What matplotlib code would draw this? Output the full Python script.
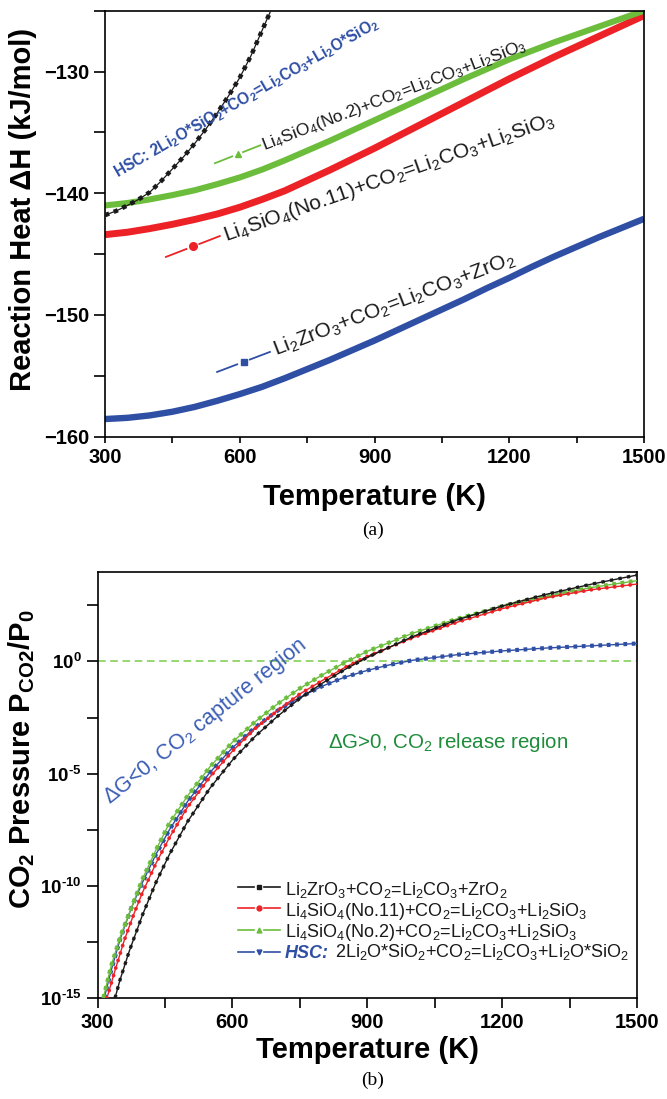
import matplotlib
matplotlib.use('Agg')
import matplotlib.pyplot as plt
import numpy as np
from matplotlib.ticker import MultipleLocator, FixedLocator, FuncFormatter, NullFormatter

plt.rcParams['font.family'] = ['Liberation Sans', 'DejaVu Sans']
plt.rcParams['mathtext.default'] = 'regular'

BLACK = '#1a1a1a'
RED = '#ec2227'
GREEN = '#6cbd3c'
BLUE = '#2f4fa5'

#-----------------------------------------------------
# (a) reaction heat dH (kJ/mol) vs temperature (K)
T_A = [300, 350, 400, 450, 500, 550, 600, 650, 700, 750, 800, 850, 900,
       950, 1000, 1050, 1100, 1150, 1200, 1250, 1300, 1350, 1400, 1450, 1500]
DH_ZR = [-158.55, -158.45, -158.25, -157.95, -157.55, -157.05, -156.5, -155.9,
         -155.2, -154.45, -153.7, -152.9, -152.1, -151.25, -150.4, -149.55,
         -148.7, -147.8, -146.95, -146.05, -145.2, -144.4, -143.6, -142.85, -142.1]
DH_NO11 = [-143.4, -143.2, -142.9, -142.55, -142.15, -141.7, -141.15, -140.5,
           -139.8, -138.95, -138.1, -137.2, -136.3, -135.35, -134.4, -133.45,
           -132.5, -131.55, -130.6, -129.7, -128.8, -127.95, -127.1, -126.25, -125.4]
DH_NO2 = [-141.0, -140.8, -140.5, -140.15, -139.75, -139.25, -138.7, -138.05,
          -137.3, -136.5, -135.7, -134.85, -134.0, -133.15, -132.3, -131.45,
          -130.6, -129.8, -129.0, -128.3, -127.6, -126.95, -126.3, -125.65, -125.0]
T_HSC_A = [300, 325, 350, 375, 400, 425, 450, 475, 500, 525, 550, 575, 600,
           625, 650, 675, 700]
DH_HSC = [-141.8, -141.45, -141.0, -140.5, -139.9, -139.0, -138.0, -137.0,
          -135.9, -134.7, -133.4, -132.0, -130.5, -128.7, -126.6, -124.5, -122.3]

#-----------------------------------------------------
# (b) log10 of CO2 pressure P_CO2/P0 vs temperature (K)
T_ZR_B = [339, 350, 370, 400, 430, 460, 500, 550, 600, 650, 700, 750, 800,
          850, 900, 1000, 1100, 1200, 1300, 1400, 1500]
LOGP_ZR = [-15.0, -14.2, -12.95, -11.3, -9.85, -8.6, -7.15, -5.65, -4.4, -3.35,
           -2.45, -1.65, -0.97, -0.36, 0.18, 1.10, 1.85, 2.47, 3.0, 3.45, 3.85]
T_NO11_B = [321, 340, 360, 380, 400, 430, 460, 500, 550, 600, 650, 700, 750,
            800, 850, 900, 1000, 1100, 1200, 1300, 1400, 1500]
LOGP_NO11 = [-15.0, -13.7, -12.4, -11.3, -10.3, -9.0, -7.85, -6.5, -5.15, -4.0,
             -3.0, -2.2, -1.45, -0.85, -0.27, 0.22, 1.05, 1.75, 2.35, 2.85, 3.2, 3.45]
T_NO2_B = [313, 330, 350, 375, 400, 430, 460, 500, 550, 600, 650, 700, 750,
           800, 850, 900, 1000, 1100, 1200, 1300, 1400, 1500]
LOGP_NO2 = [-15.0, -13.6, -12.3, -11.0, -9.7, -8.4, -7.2, -6.0, -4.7, -3.6,
            -2.7, -1.9, -1.2, -0.6, -0.05, 0.45, 1.25, 1.9, 2.45, 2.9, 3.3, 3.6]
T_HSC_B = [315, 330, 350, 375, 400, 430, 460, 500, 550, 600, 650, 700, 750,
           800, 850, 900, 950, 1000, 1100, 1200, 1300, 1400, 1500]
LOGP_HSC = [-15.0, -13.8, -12.4, -11.0, -9.85, -8.6, -7.5, -6.25, -4.95, -3.85,
            -2.95, -2.2, -1.6, -1.1, -0.7, -0.4, -0.15, 0.05, 0.3, 0.47, 0.6, 0.7, 0.8]

LBL_ZR = 'Li$_2$ZrO$_3$+CO$_2$=Li$_2$CO$_3$+ZrO$_2$'
LBL_NO11 = 'Li$_4$SiO$_4$(No.11)+CO$_2$=Li$_2$CO$_3$+Li$_2$SiO$_3$'
LBL_NO2 = 'Li$_4$SiO$_4$(No.2)+CO$_2$=Li$_2$CO$_3$+Li$_2$SiO$_3$'
LBL_HSC = '2Li$_2$O*SiO$_2$+CO$_2$=Li$_2$CO$_3$+Li$_2$O*SiO$_2$'

W, H = 667, 1099
LABEL_FS = 21


def px_axes(left, right, top, bottom):
    return [left / W, 1 - bottom / H, (right - left) / W, (bottom - top) / H]


def marker_line(ax, x, y, color, lw_line, lw_mark, dashes, cap='butt', z=3):
    # thin connecting line plus a dotted thick line standing in for dense markers
    ax.plot(x, y, color=color, lw=lw_line, zorder=z)
    ax.plot(x, y, color=color, lw=lw_mark, dashes=dashes,
            dash_capstyle=cap, zorder=z)


def key(ax, p0, p1, color, marker, ms, lw=1.3):
    # little "-- o --" key drawn in axes fraction coords
    (x0, y0), (x1, y1) = p0, p1
    t = ax.transAxes
    ax.plot([x0, x0 + 0.38 * (x1 - x0)], [y0, y0 + 0.38 * (y1 - y0)], color=color, lw=lw, transform=t)
    ax.plot([x0 + 0.62 * (x1 - x0), x1], [y0 + 0.62 * (y1 - y0), y1], color=color, lw=lw, transform=t)
    ax.plot([(x0 + x1) / 2], [(y0 + y1) / 2], marker=marker, color=color, ms=ms,
            mec=color, transform=t)


def style_axes(ax, xlen, ylabsize=14.5):
    for s in ax.spines.values():
        s.set_linewidth(1.2)
    ax.tick_params(which='both', direction='out', top=False, right=False, width=1.2)
    ax.tick_params(axis='y', which='both', length=8, labelsize=ylabsize)
    ax.tick_params(axis='x', which='both', length=xlen, labelsize=14.5)
    for lab in ax.get_xticklabels() + ax.get_yticklabels():
        lab.set_fontweight('bold')


def pow10_label(v, pos):
    e = int(round(np.log10(v)))
    if e < 0:
        return '10$^{\u2010%d}$' % (-e)
    return '10$^{%d}$' % e


fig = plt.figure(figsize=(W / 100, H / 100), dpi=100)

# ---------------- panel (a)
ax1 = fig.add_axes(px_axes(105, 644, 10.7, 436.7))
ax1.plot(T_A, DH_ZR, color=BLUE, lw=4.6, solid_capstyle='butt')
ax1.plot(T_A, DH_NO11, color=RED, lw=5.0, solid_capstyle='butt')
ax1.plot(T_A, DH_NO2, color=GREEN, lw=4.4, solid_capstyle='butt')
marker_line(ax1, T_HSC_A, DH_HSC, BLACK, 0.9, 3.2, (1.0, 1.1))
ax1.set_xlim(300, 1500)
ax1.set_ylim(-160, -125)
ax1.xaxis.set_major_locator(MultipleLocator(300))
ax1.xaxis.set_minor_locator(MultipleLocator(150))
ax1.yaxis.set_major_locator(MultipleLocator(10))
ax1.yaxis.set_minor_locator(MultipleLocator(5))
style_axes(ax1, 4.5)
ax1.set_xlabel('Temperature (K)', fontsize=LABEL_FS, fontweight='bold', labelpad=12)
ax1.set_ylabel('Reaction Heat \u0394H (kJ/mol)', fontsize=LABEL_FS, fontweight='bold')
ax1.yaxis.set_label_coords(-0.126, 0.534)

txt_kw = dict(transform=ax1.transAxes, ha='left', va='baseline', rotation_mode='anchor')
ax1.text(0.024, 0.608, 'HSC: ' + LBL_HSC, rotation=30, fontsize=11.2,
         fontweight='bold', color=BLUE, **txt_kw)
key(ax1, (0.204, 0.642), (0.288, 0.684), GREEN, '^', 5)
ax1.text(0.296, 0.673, LBL_NO2, rotation=21, fontsize=12.5, color=BLACK, **txt_kw)
key(ax1, (0.113, 0.422), (0.213, 0.471), RED, 'o', 5.5)
ax1.text(0.224, 0.459, LBL_NO11, rotation=19.5, fontsize=15, color=BLACK, **txt_kw)
key(ax1, (0.208, 0.152), (0.306, 0.199), BLUE, 's', 4.5)
ax1.text(0.317, 0.189, LBL_ZR, rotation=21, fontsize=15, color=BLACK, **txt_kw)

fig.text(373 / W, 1 - 530 / H, '(a)', ha='center', va='center', fontsize=14,
         family='Liberation Serif')

# ---------------- panel (b)
ax2 = fig.add_axes(px_axes(97.5, 637, 571.7, 998))
ax2.set_yscale('log')
ax2.axhline(1.0, color='#7acc4a', lw=1.1, dashes=(5, 3), zorder=1)
marker_line(ax2, T_HSC_B, np.power(10.0, LOGP_HSC), BLUE, 1.0, 3.0, (0.9, 1.1), z=3)
marker_line(ax2, T_NO2_B, np.power(10.0, LOGP_NO2), GREEN, 1.0, 3.0, (0.9, 1.1), z=4)
marker_line(ax2, T_NO11_B, np.power(10.0, LOGP_NO11), RED, 1.0, 2.8, (0.01, 2.0), cap='round', z=5)
marker_line(ax2, T_ZR_B, np.power(10.0, LOGP_ZR), BLACK, 1.0, 2.4, (1.0, 1.6), z=6)
ax2.set_xlim(300, 1500)
ax2.set_ylim(1e-15, 1e4)
ax2.xaxis.set_major_locator(MultipleLocator(300))
ax2.xaxis.set_minor_locator(MultipleLocator(150))
ax2.yaxis.set_major_locator(FixedLocator([1e-15, 1e-10, 1e-5, 1.0]))
ax2.yaxis.set_minor_locator(FixedLocator([10 ** -12.5, 10 ** -7.5, 10 ** -2.5, 10 ** 2.5]))
ax2.yaxis.set_major_formatter(FuncFormatter(pow10_label))
ax2.yaxis.set_minor_formatter(NullFormatter())
style_axes(ax2, 7, ylabsize=13.5)
ax2.set_xlabel('Temperature (K)', fontsize=LABEL_FS, fontweight='bold', labelpad=3)
ax2.set_ylabel('CO$_2$ Pressure P$_{CO2}$/P$_0$', fontsize=LABEL_FS, fontweight='bold')
ax2.yaxis.set_label_coords(-0.112, 0.56)

t2 = ax2.transAxes
ax2.text(0.022, 0.455, '\u0394G<0, CO$_2$ capture region', rotation=38.5, fontsize=15.5,
         color='#3a5cb4', transform=t2, ha='left', va='baseline', rotation_mode='anchor')
ax2.text(0.427, 0.6005, '\u0394G>0, CO$_2$ release region', fontsize=14.8,
         color='#1e8c3a', transform=t2, ha='left', va='center')

# legend drawn by hand so the "HSC:" prefix can be blue bold italic
rows = [(LBL_ZR, BLACK, 's'), (LBL_NO11, RED, 'o'), (LBL_NO2, GREEN, '^'), (LBL_HSC, BLUE, 'v')]
row_y = [0.260, 0.210, 0.160, 0.108]
for (lbl, col, mk), y in zip(rows, row_y):
    ax2.plot([0.260, 0.290], [y, y], color=col, lw=1.2, transform=t2)
    ax2.plot([0.308, 0.338], [y, y], color=col, lw=1.2, transform=t2)
    ax2.plot([0.299], [y], marker=mk, color=col, ms=3.5, transform=t2)
    if col == BLUE:
        hsc = ax2.text(0.3475, y, 'HSC:', fontsize=13, fontweight='bold', style='italic',
                       color=BLUE, transform=t2, ha='left', va='center_baseline')
        ax2.annotate(lbl, xy=(1, 0), xycoords=hsc, xytext=(4, 0), textcoords='offset points',
                     fontsize=13, color=BLACK, ha='left', va='bottom')
    else:
        ax2.text(0.3475, y, lbl, fontsize=13, color=BLACK, transform=t2,
                 ha='left', va='center_baseline')

fig.text(373 / W, 1 - 1080 / H, '(b)', ha='center', va='center', fontsize=14,
         family='Liberation Serif')

fig.savefig('out.png', dpi=100)
